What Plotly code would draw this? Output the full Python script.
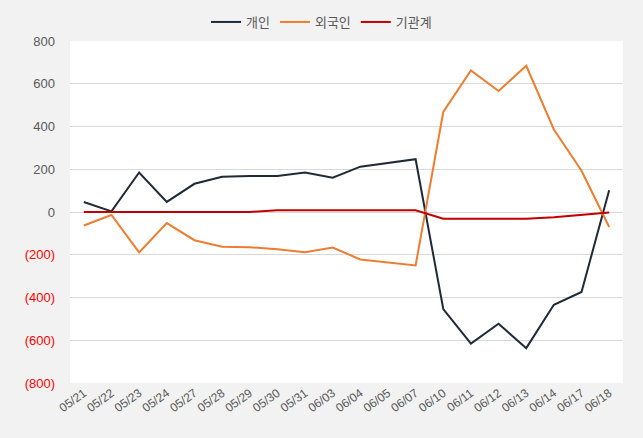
import plotly.graph_objects as go

dates = ["05/21","05/22","05/23","05/24","05/27","05/28","05/29","05/30","05/31","06/03",
         "06/04","06/05","06/07","06/10","06/11","06/12","06/13","06/14","06/17","06/18"]
individual = [47, 3, 185, 47, 132, 165, 168, 169, 185, 160, 212, 231, 247, -454, -616, -523, -637, -434, -374, 102]
foreign = [-63, -14, -189, -52, -132, -162, -165, -174, -188, -166, -222, -236, -250, 468, 662, 566, 684, 386, 193, -70]
institution = [0, 0, 0, 0, 0, 0, 0, 8, 8, 8, 8, 8, 8, -31, -31, -31, -31, -25, -12, -2]

yticks = [800, 600, 400, 200, 0, -200, -400, -600, -800]

def fmt(v):
    if v < 0:
        return '<span style="color:#ff0000">(%d)</span>' % (-v)
    return str(v)

font_family = "Liberation Sans, Noto Sans CJK KR, Arial, sans-serif"

fig = go.Figure()
fig.add_trace(go.Scatter(x=dates, y=individual, mode="lines", name="개인",
                         line=dict(color="#1f2a38", width=2)))
fig.add_trace(go.Scatter(x=dates, y=foreign, mode="lines", name="외국인",
                         line=dict(color="#ed7d31", width=2)))
fig.add_trace(go.Scatter(x=dates, y=institution, mode="lines", name="기관계",
                         line=dict(color="#c00000", width=2)))

fig.update_layout(
    width=643, height=438,
    paper_bgcolor="#f2f2f2", plot_bgcolor="#ffffff",
    margin=dict(l=70, r=20, t=41, b=55, autoexpand=False),
    font=dict(family=font_family, size=13, color="#595959"),
    showlegend=True,
    legend=dict(orientation="h", xref="container", yref="container",
                x=0.5, xanchor="center", y=1 - 22 / 438, yanchor="middle",
                font=dict(size=13, color="#595959"), bgcolor="rgba(0,0,0,0)",
                itemwidth=30, tracegroupgap=0),
    xaxis=dict(type="category", range=[-0.5, len(dates) - 0.5], tickangle=-36,
               showgrid=False, showline=False, ticks="", zeroline=False,
               automargin=False,
               tickfont=dict(size=12, color="#595959")),
    yaxis=dict(range=[-800, 800], tickvals=yticks, ticktext=[fmt(v) for v in yticks],
               showgrid=True, gridcolor="#d9d9d9", gridwidth=1,
               zeroline=True, zerolinecolor="#d9d9d9", zerolinewidth=1,
               showline=False, ticks="", ticklabelstandoff=14, automargin=False,
               tickfont=dict(size=13, color="#595959")),
)

fig.write_html("out.html")
